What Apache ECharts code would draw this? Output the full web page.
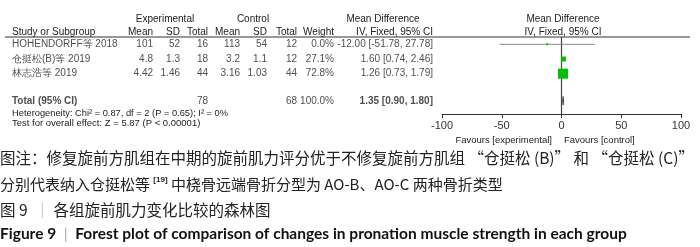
<!DOCTYPE html>
<html>
<head>
<meta charset="utf-8">
<script src="https://cdn.jsdelivr.net/npm/echarts@6/dist/echarts.min.js"></script>
<style>
  html, body { margin: 0; padding: 0; background: #fff; }
  #chart { width: 700px; height: 247px; }
</style>
</head>
<body>
<div id="chart"></div>
<script>
// study data
const studies = ['HOHENDORFF等 2018', '仓挺松(B)等 2019', '林志浩等 2019'];
const expMean = ['101', '4.8', '4.42'];
const expSD = ['52', '1.3', '1.46'];
const expN = [16, 18, 44];
const ctlMean = ['113', '3.2', '3.16'];
const ctlSD = ['54', '1.1', '1.03'];
const ctlN = [12, 12, 44];
const weights = [0.0, 27.1, 72.8];
const md = [-12.0, 1.6, 1.26];
const ciLow = [-51.78, 0.74, 0.73];
const ciHigh = [27.78, 2.46, 1.79];

// pooled result
const totalLabel = 'Total (95% CI)';
const totalExpN = 78;
const totalCtlN = 68;
const totalWeight = 100.0;
const totalMD = 1.35;
const totalLow = 0.9;
const totalHigh = 1.8;
const chi2 = 0.87, df = 2, pHet = 0.65, i2 = 0;
const zVal = 5.87;

const xTicks = [-100, -50, 0, 50, 100];

// layout (row positions on the shared y scale, column x in px)
const rowPos = [1, 2, 3];
const totalPos = 4.85;
const yMin = 0.5, yMax = 5.75;
const tableFont = 'Liberation Sans, Arial, sans-serif';
const cjkFont = '"Noto Sans CJK SC", sans-serif';
const textColor = '#222';
const fs = 10;

const cols = [
  { x: 12, align: 'left', get: (i) => studies[i] },
  { x: 153, align: 'right', get: (i) => expMean[i] },
  { x: 180, align: 'right', get: (i) => expSD[i] },
  { x: 208, align: 'right', get: (i) => String(expN[i]) },
  { x: 240, align: 'right', get: (i) => ctlMean[i] },
  { x: 267, align: 'right', get: (i) => ctlSD[i] },
  { x: 297, align: 'right', get: (i) => String(ctlN[i]) },
  { x: 334, align: 'right', get: (i) => weights[i].toFixed(1) + '%' },
  {
    x: 433,
    align: 'right',
    get: (i) =>
      `${md[i].toFixed(2)} [${ciLow[i].toFixed(2)}, ${ciHigh[i].toFixed(2)}]`,
  },
];

const cellItem = (x, y, text, align, bold) => ({
  value: [x, y],
  label: {
    show: true,
    position: [0, 0],
    align,
    verticalAlign: 'middle',
    formatter: text,
    fontFamily: tableFont,
    fontSize: fs,
    fontWeight: bold ? 'bold' : 'normal',
    color: textColor,
  },
});

const tableData = [];
studies.forEach((s, i) => {
  cols.forEach((c) => {
    tableData.push(cellItem(c.x, rowPos[i], c.get(i), c.align, false));
  });
});
tableData.push(cellItem(12, totalPos, totalLabel, 'left', true));
tableData.push(cellItem(208, totalPos, String(totalExpN), 'right', false));
tableData.push(cellItem(297, totalPos, String(totalCtlN), 'right', false));
tableData.push(cellItem(334, totalPos, totalWeight.toFixed(1) + '%', 'right', false));
tableData.push(
  cellItem(
    433,
    totalPos,
    `${totalMD.toFixed(2)} [${totalLow.toFixed(2)}, ${totalHigh.toFixed(2)}]`,
    'right',
    true,
  ),
);

const squareSize = (w) => 2 + (8 * w) / 72.8;

const forestData = studies.map((s, i) => [md[i], rowPos[i], ciLow[i], ciHigh[i], weights[i]]);

const chart = echarts.init(document.getElementById('chart'), null, { renderer: 'canvas' });

const txt = (x, y, text, opts = {}) => ({
  type: 'text',
  x,
  y,
  style: Object.assign(
    {
      text,
      fill: textColor,
      font: `${fs}px ${tableFont}`,
      textAlign: 'left',
      textVerticalAlign: 'middle',
    },
    opts,
  ),
});

const option = {
  animation: false,
  grid: [
    { left: 0, width: 700, top: 37, height: 77 },
    { left: 442, width: 239, top: 37, height: 77 },
  ],
  xAxis: [
    { gridIndex: 0, type: 'value', min: 0, max: 700, show: false },
    {
      gridIndex: 1,
      type: 'value',
      min: -100,
      max: 100,
      interval: 50,
      axisLine: { show: true, lineStyle: { color: '#333', width: 1 } },
      axisTick: { show: true, length: 4, lineStyle: { color: '#333' } },
      axisLabel: {
        fontFamily: tableFont,
        fontSize: 11,
        color: '#333',
        margin: 6,
        formatter: (v) => (xTicks.includes(v) ? String(v) : ''),
      },
      splitLine: { show: false },
    },
  ],
  yAxis: [
    { gridIndex: 0, type: 'value', inverse: true, min: yMin, max: yMax, show: false },
    { gridIndex: 1, type: 'value', inverse: true, min: yMin, max: yMax, show: false },
  ],
  series: [
    {
      type: 'scatter',
      xAxisIndex: 0,
      yAxisIndex: 0,
      symbolSize: 0.001,
      silent: true,
      clip: false,
      data: tableData,
    },
    // line of no effect
    {
      type: 'line',
      xAxisIndex: 1,
      yAxisIndex: 1,
      silent: true,
      symbol: 'none',
      lineStyle: { color: '#444', width: 1.2 },
      data: [[0, yMin], [0, yMax]],
      z: 1,
    },
    {
      type: 'custom',
      xAxisIndex: 1,
      yAxisIndex: 1,
      clip: false,
      silent: true,
      z: 3,
      data: forestData,
      renderItem: (params, api) => {
        const c = api.coord([api.value(0), api.value(1)]);
        const lo = api.coord([api.value(2), api.value(1)]);
        const hi = api.coord([api.value(3), api.value(1)]);
        const s = squareSize(api.value(4));
        return {
          type: 'group',
          children: [
            {
              type: 'line',
              shape: { x1: lo[0], y1: lo[1], x2: hi[0], y2: hi[1] },
              style: { stroke: '#8a8a8a', lineWidth: 1 },
            },
            {
              type: 'rect',
              shape: { x: c[0] - s / 2, y: c[1] - s / 2, width: s, height: s },
              style: { fill: '#00c000' },
            },
          ],
        };
      },
    },
    {
      type: 'custom',
      xAxisIndex: 1,
      yAxisIndex: 1,
      clip: false,
      silent: true,
      z: 3,
      data: [[totalMD, totalPos, totalLow, totalHigh]],
      renderItem: (params, api) => {
        const y = api.value(1);
        const top = api.coord([api.value(0), y - 0.3]);
        const bot = api.coord([api.value(0), y + 0.3]);
        const l = api.coord([api.value(2), y]);
        const r = api.coord([api.value(3), y]);
        return {
          type: 'polygon',
          shape: { points: [l, top, r, bot] },
          style: { fill: '#222', stroke: '#222', lineWidth: 0.6 },
        };
      },
    },
  ],
  graphic: [
    // header rule
    {
      type: 'line',
      shape: { x1: 5, y1: 37, x2: 690, y2: 37 },
      style: { stroke: '#333', lineWidth: 1 },
    },
    txt(165, 19, 'Experimental', { textAlign: 'center' }),
    txt(253, 19, 'Control', { textAlign: 'center' }),
    txt(383, 19, 'Mean Difference', { textAlign: 'center' }),
    txt(563, 19, 'Mean Difference', { textAlign: 'center' }),
    txt(12, 32, 'Study or Subgroup'),
    txt(153, 32, 'Mean', { textAlign: 'right' }),
    txt(180, 32, 'SD', { textAlign: 'right' }),
    txt(208, 32, 'Total', { textAlign: 'right' }),
    txt(240, 32, 'Mean', { textAlign: 'right' }),
    txt(267, 32, 'SD', { textAlign: 'right' }),
    txt(297, 32, 'Total', { textAlign: 'right' }),
    txt(334, 32, 'Weight', { textAlign: 'right' }),
    txt(433, 32, 'IV, Fixed, 95% CI', { textAlign: 'right' }),
    txt(563, 32, 'IV, Fixed, 95% CI', { textAlign: 'center' }),
    txt(
      12,
      113,
      `Heterogeneity: Chi² = ${chi2.toFixed(2)}, df = ${df} (P = ${pHet.toFixed(2)}); I² = ${i2}%`,
      { font: `9.3px ${tableFont}` },
    ),
    txt(12, 123, `Test for overall effect: Z = ${zVal.toFixed(2)} (P < 0.00001)`, {
      font: `9.5px ${tableFont}`,
    }),
    txt(552, 140, 'Favours [experimental]', { textAlign: 'right', font: `9.5px ${tableFont}` }),
    txt(564, 140, 'Favours [control]', { font: `9.5px ${tableFont}` }),
    // caption
    txt(0, 158, '图注：修复旋前方肌组在中期的旋前肌力评分优于不修复旋前方肌组 “仓挺松 (B)” 和 “仓挺松 (C)”', {
      font: `15.5px ${cjkFont}`,
    }),
    {
      type: 'text',
      x: 0,
      y: 184,
      style: {
        text: '{a|分别代表纳入仓挺松等 }{s|[19]}{a| 中桡骨远端骨折分型为 AO-B、AO-C 两种骨折类型}',
        textVerticalAlign: 'middle',
        rich: {
          a: { font: `15px ${cjkFont}`, fill: textColor },
          s: { font: `bold 8px ${tableFont}`, fill: textColor, verticalAlign: 'top', padding: [0, 0, 8, 0] },
        },
      },
    },
    {
      type: 'text',
      x: 0,
      y: 210,
      style: {
        text: '{a|图 9  }{b|｜}{a| 各组旋前肌力变化比较的森林图}',
        textVerticalAlign: 'middle',
        rich: {
          a: { font: `15.5px ${cjkFont}`, fill: textColor },
          b: { font: `15.5px ${cjkFont}`, fill: '#aaa' },
        },
      },
    },
    {
      type: 'text',
      x: 0,
      y: 234,
      style: {
        text: '{a|Figure 9  }{b||}{a|  Forest plot of comparison of changes in pronation muscle strength in each group}',
        textVerticalAlign: 'middle',
        rich: {
          a: { font: `bold 15.5px Lato, "Open Sans", sans-serif`, fill: '#111' },
          b: { font: `15.5px Lato, sans-serif`, fill: '#aaa' },
        },
      },
    },
  ],
};

chart.setOption(option);
</script>
</body>
</html>
